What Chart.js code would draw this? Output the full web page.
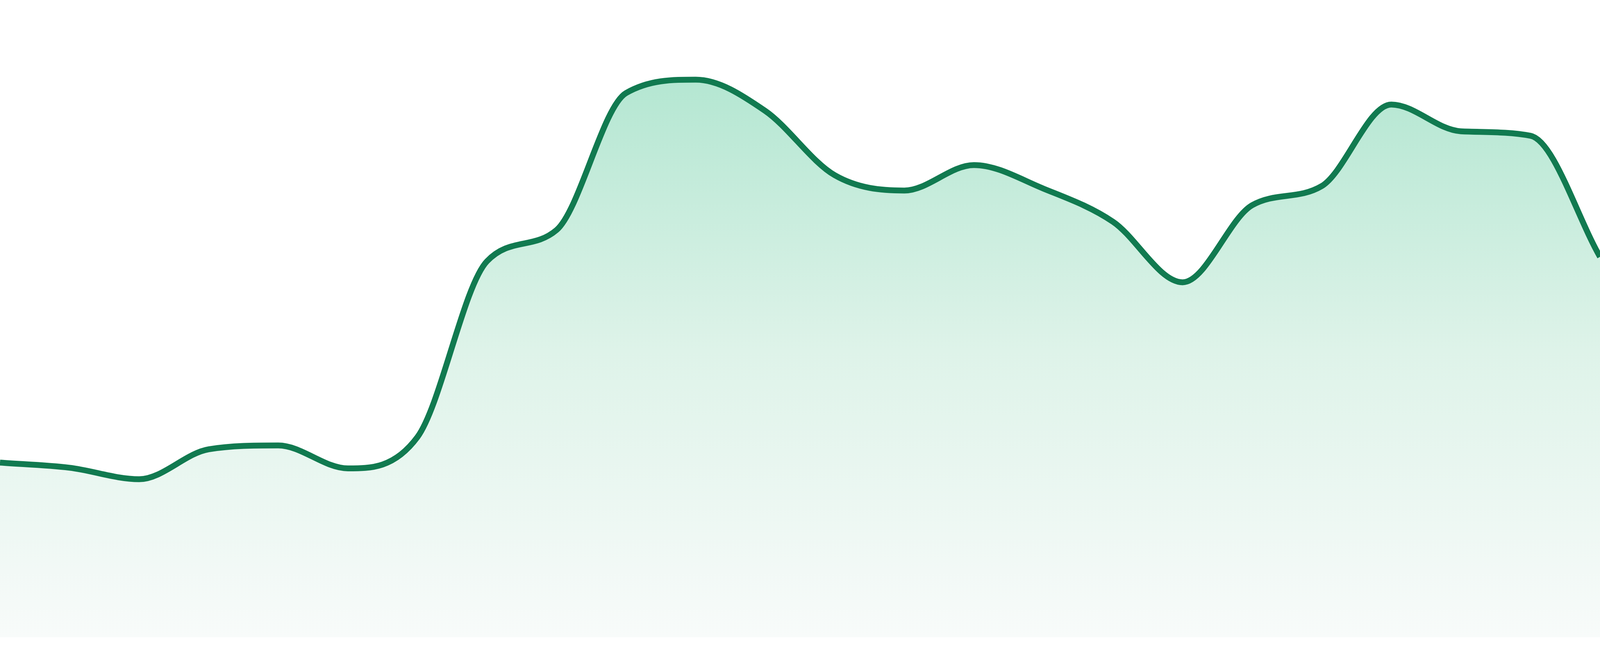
<!DOCTYPE html>
<html>
<head>
<meta charset="utf-8">
<script src="https://cdn.jsdelivr.net/npm/chart.js@4.4.1/dist/chart.umd.min.js"></script>
<style>
  html, body { margin: 0; padding: 0; background: #ffffff; overflow: hidden; }
  #wrap { position: relative; width: 100vw; height: 100vh; }
</style>
</head>
<body>
<div id="wrap"><canvas id="myChart"></canvas></div>
<script>
// data (no axes shown, so values are on a 0-100 scale)
const categories = ["1", "2", "3", "4", "5", "6", "7", "8", "9", "10", "11", "12",
  "13", "14", "15", "16", "17", "18", "19", "20", "21", "22", "23", "24"];
const values = [27.4, 26.6, 24.8, 29.5, 30.1, 26.5, 31.4, 59.0, 63.9, 85.4, 87.5, 82.6,
  72.5, 70.1, 74.1, 70.4, 65.2, 55.7, 67.8, 70.8, 83.6, 79.4, 78.7, 59.7];
const yRange = [0, 100];

// line width and bottom gap follow the window height (reference is 1680 tall)
const unit = window.innerHeight / 1680;

const ctx = document.getElementById("myChart");

new Chart(ctx, {
  type: "line",
  data: {
    labels: categories,
    datasets: [
      {
        data: values,
        borderColor: "#117a50",
        borderWidth: 15 * unit,
        pointRadius: 0,
        cubicInterpolationMode: "monotone",
        fill: "start",
        backgroundColor: function (context) {
          const area = context.chart.chartArea;
          if (!area) return "rgba(167,227,202,0.6)";
          const g = context.chart.ctx.createLinearGradient(0, area.top, 0, area.bottom);
          g.addColorStop(0, "#a8e3cb");
          g.addColorStop(0.55, "#def3e9");
          g.addColorStop(1, "#f8fbfa");
          return g;
        },
      },
    ],
  },
  options: {
    responsive: true,
    maintainAspectRatio: false,
    animation: false,
    layout: { padding: { left: 0, right: 0, top: 0, bottom: 48 * unit } },
    plugins: { legend: { display: false }, tooltip: { enabled: false } },
    scales: {
      x: { display: false, offset: false },
      y: { display: false, min: yRange[0], max: yRange[1] },
    },
  },
});
</script>
</body>
</html>
